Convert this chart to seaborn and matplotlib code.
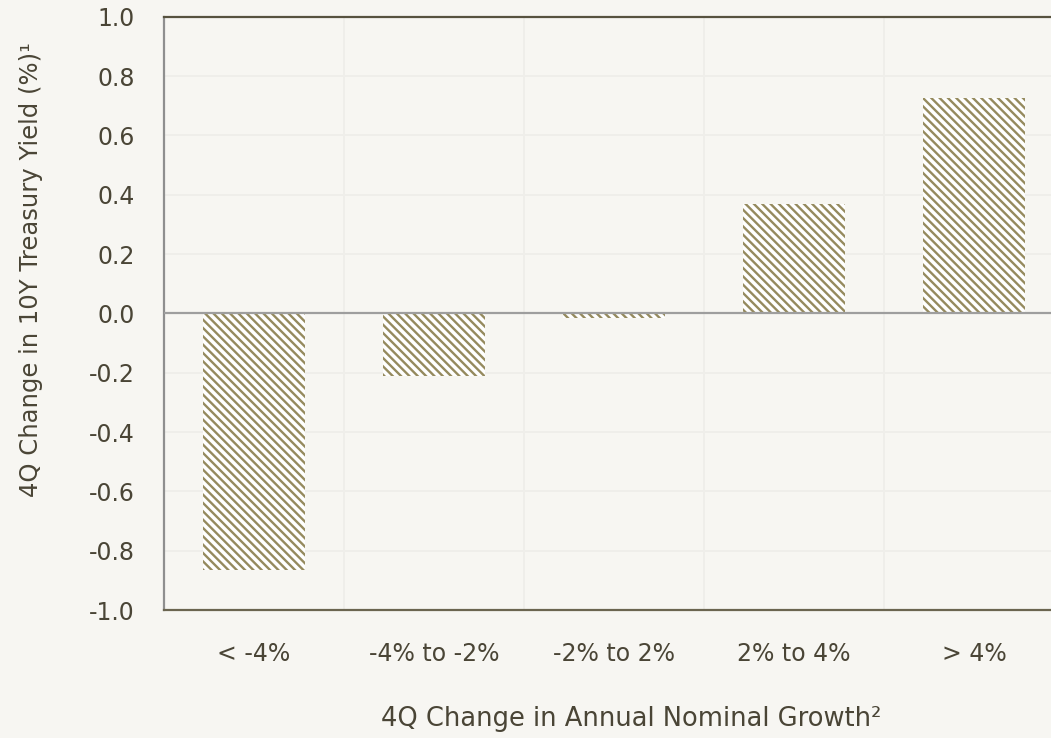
import pandas as pd
import matplotlib
matplotlib.use("Agg")
import matplotlib.pyplot as plt
import numpy as np
import seaborn as sns

# Data
growth_buckets = ["< -4%", "-4% to -2%", "-2% to 2%", "2% to 4%", "> 4%"]
yield_change = [-0.865, -0.212, -0.016, 0.369, 0.725]
y_ticks = [-1.0, -0.8, -0.6, -0.4, -0.2, 0.0, 0.2, 0.4, 0.6, 0.8, 1.0]

df = pd.DataFrame({"bucket": growth_buckets, "change": yield_change})

sns.set_style("white")
plt.rcParams['font.family'] = ['DejaVu Sans']
plt.rcParams['hatch.linewidth'] = 1.7

text_col = "#4a4536"
bg = "#f7f6f2"
hatch_col = "#958a5e"
fs = 17

fig = plt.figure(figsize=(10.51, 7.38), dpi=100, facecolor=bg)
ax = fig.add_axes([164 / 1051, 128 / 738, 900 / 1051, 593.3 / 738])
ax.set_facecolor(bg)

sns.barplot(data=df, x="bucket", y="change", color="white", width=0.567,
            edgecolor=hatch_col, linewidth=0, ax=ax, zorder=3)
for p in ax.patches:
    p.set_hatch("\\\\\\\\")
    p.set_facecolor("white")
    p.set_edgecolor(hatch_col)
    p.set_linewidth(0)

ax.set_xlim(-0.5, 4.5)
ax.set_ylim(-1.0, 1.0)
ax.set_yticks(y_ticks)
ax.set_yticklabels([f"{v:.1f}" for v in y_ticks])

# light grid: horizontal at ticks, vertical between categories
ax.set_xticks(np.arange(0.5, 4.5, 1.0), minor=True)
ax.grid(axis="y", which="major", color="#efeeea", linewidth=1.3, zorder=0)
ax.grid(axis="x", which="minor", color="#efeeea", linewidth=1.3, zorder=0)
ax.set_axisbelow(True)

ax.axhline(0, color="#9e9e9e", linewidth=1.6, zorder=4)

ax.tick_params(axis="both", which="both", length=0, labelsize=fs,
               labelcolor=text_col)
ax.tick_params(axis="x", pad=23)
ax.tick_params(axis="y", pad=21)

ax.spines["right"].set_visible(False)
ax.spines["top"].set_color("#57523f")
ax.spines["top"].set_linewidth(1.6)
ax.spines["left"].set_color("#8f8f8f")
ax.spines["left"].set_linewidth(1.6)
ax.spines["bottom"].set_color("#6b6550")
ax.spines["bottom"].set_linewidth(1.6)

ax.set_xlabel("")
ax.set_ylabel("")
fig.text(631 / 1051, 0.026, "4Q Change in Annual Nominal Growth²", fontsize=18.5,
         color=text_col, ha="center", va="center")
fig.text(31 / 1051, (738 - 270) / 738, "4Q Change in 10Y Treasury Yield (%)¹",
         fontsize=17.5, color=text_col, ha="center", va="center", rotation=90)

plt.savefig("out.png", dpi=100, facecolor=bg)
